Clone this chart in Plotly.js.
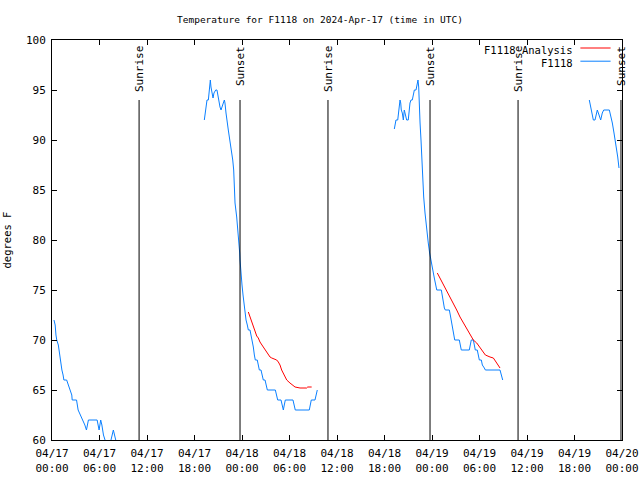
<!DOCTYPE html>
<html>
<head>
<meta charset="utf-8">
<script src="https://cdn.plot.ly/plotly-3.0.1.min.js"></script>
<style>html,body{margin:0;padding:0;background:#fff;}#chart{width:640px;height:480px;}</style>
</head>
<body>
<div id="chart"></div>
<script>
// Hours since 2024-04-17 00:00 UTC, and temperature (degrees F)
const obsHours1 = [0.25,0.4,0.5,0.6,0.8,0.95,1.1,1.25,1.4,1.5,1.85,2.05,2.25,2.5,2.55,3.1,3.3,3.6,3.9,4.15,4.35,4.6,5.7,5.85,5.95,6.15,6.3,6.5,6.7,6.9,7.3,7.45,7.75,8.05,8.3];
const obsTemp1  = [72,71.5,70.5,70,69.5,68.5,67.5,67,66.5,66,66,65.5,65,64.5,64,64,63,62.5,62,61.5,61,62,62,61.5,61,62,61.5,60.5,60,59.5,59.5,60,61,60,59.5];

const obsHours2 = [19.24,19.33,19.45,19.58,19.75,19.83,19.96,20.0,20.08,20.21,20.34,20.46,20.68,20.84,21.0,21.1,21.22,21.35,21.51,21.64,21.77,21.85,21.98,22.1,22.27,22.4,22.52,22.7,22.83,22.95,23.03,23.12,23.33,23.46,23.58,23.71,23.75,23.87,24.0,24.13,24.25,24.38,24.51,24.67,24.8,25.01,25.14,25.27,25.43,25.56,25.68,25.93,26.06,26.19,26.4,26.53,26.69,26.91,27.03,27.2,28.21,28.38,28.51,28.93,29.09,29.22,29.34,29.47,30.44,30.61,30.73,32.5,32.63,32.75,33.22,33.35,33.51];
const obsTemp2  = [92,92.7,93.7,94,94,94.7,95.5,96,95.3,94.7,94.2,94.7,95,95,94.2,93.8,93.3,93,93.3,93.7,94,93.7,92.7,91.7,91,90.3,89.7,89,88,87,85.3,83.7,82.3,81.3,80,78.7,78,76.5,75.5,74.5,73.5,72.7,72,71.5,71,71,70.5,70,69.3,68.5,68,68,67.5,67,67,66.5,66,66,65.5,65,65,64.5,64,64,63.5,63,63.5,64,64,63.5,63,63,63.5,64,64,64.5,65];

const obsHours3 = [43.24,43.33,43.45,43.67,43.83,43.96,44.05,44.12,44.25,44.38,44.5,44.59,44.68,44.8,45.0,45.13,45.22,45.35,45.51,45.64,45.77,45.98,46.11,46.23,46.32,46.36,46.49,46.61,46.7,46.83,46.95,47.12,47.28,47.41,47.53,47.7,47.84,47.96,48.17,48.29,48.42,48.6,49.18,49.31,49.43,49.56,49.68,50.19,50.31,50.44,50.57,50.69,50.87,51.45,51.58,51.7,52.71,52.84,52.96,53.22,53.34,53.47,53.72,53.85,53.98,54.23,54.36,54.61,54.74,56.59,56.72,56.85,56.93];
const obsTemp3  = [91.1,91.5,92,92,93,94,93.7,93,92.7,92,93,92.7,92.5,92,92,93.2,93.7,94,94,94.5,95,95,95.5,96,95.3,93.7,91.7,90,88.3,86.3,84.3,82.7,81.3,80.7,79.7,78.7,78,77.5,76.7,76.2,75.7,75,75,74.3,73.8,73.2,73,73,72.5,71.8,71.2,70.5,70,70,69.5,69,69,69.5,70,70,69.5,69,69,68.5,68,68,67.5,67.2,67,67,66.7,66.3,66];

const obsHours4 = [67.87,68.05,68.25,68.38,68.59,68.72,68.88,69.1,69.31,69.51,69.69,70.4,70.58,70.78,70.99,71.12,71.33,71.46,71.62];
const obsTemp4  = [94,93.3,92.7,92,92,92.5,93,92.5,92,92.7,93,93,92.5,91.7,90.7,90,89.3,88.3,87.2];

const anaHours1 = [24.8,25.01,25.23,25.43,25.64,25.86,26.06,26.27,26.69,27.12,27.54,27.76,28.38,28.59,28.8,29.01,29.22,29.65,30.06,30.7,31.33,32.17,32.3,32.8];
const anaTemp1  = [72.8,72.3,71.8,71.3,70.8,70.4,70.2,69.8,69.3,68.8,68.3,68.2,68,67.8,67.5,67,66.7,66,65.7,65.3,65.2,65.2,65.3,65.3];
const anaHours2 = [48.67,49.01,49.43,49.86,50.27,50.69,51.12,51.54,51.96,52.38,52.8,53.22,53.65,54.06,54.48,54.74,55.33,55.75,56.09,56.38,56.59];
const anaTemp2  = [76.7,76.2,75.5,75,74.3,73.7,73,72.3,71.7,71.2,70.5,70,69.7,69.2,68.7,68.5,68.3,68.2,67.8,67.5,67.2];

const eventHours = [11.0,23.75,34.86,47.75,58.87,71.87];
const eventNames = ["Sunrise","Sunset","Sunrise","Sunset","Sunrise","Sunset"];
const eventTop = 94;

const xTickHours = [0,6,12,18,24,30,36,42,48,54,60,66,72];
const xTickText = ["04/17<br>00:00","04/17<br>06:00","04/17<br>12:00","04/17<br>18:00","04/18<br>00:00","04/18<br>06:00","04/18<br>12:00","04/18<br>18:00","04/19<br>00:00","04/19<br>06:00","04/19<br>12:00","04/19<br>18:00","04/20<br>00:00"];

const seriesNames = ["F1118 Analysis","F1118"];
const seriesColors = ["#ff0000","#0a80ff"];

function toDate(h){
  const ms = Date.UTC(2024,3,17) + Math.round(h*3600000);
  return new Date(ms).toISOString().replace('T',' ').slice(0,19);
}
function joinSegs(hs, ts){
  const x=[], y=[];
  hs.forEach((seg,i)=>{
    if(i>0){x.push(null);y.push(null);}
    seg.forEach((h,j)=>{x.push(toDate(h)); y.push(ts[i][j]);});
  });
  return {x,y};
}
const obs = joinSegs([obsHours1,obsHours2,obsHours3,obsHours4],[obsTemp1,obsTemp2,obsTemp3,obsTemp4]);
const ana = joinSegs([anaHours1,anaHours2],[anaTemp1,anaTemp2]);

const mono = "DejaVu Sans Mono, Liberation Mono, monospace";
const traces = [
  {x: obs.x, y: obs.y, mode:'lines', name: seriesNames[1], line:{color:seriesColors[1], width:1}, connectgaps:false, showlegend:false},
  {x: ana.x, y: ana.y, mode:'lines', name: seriesNames[0], line:{color:seriesColors[0], width:1}, connectgaps:false, showlegend:false}
];

const shapes = eventHours.map(h=>({type:'line', xref:'x', yref:'y', x0:toDate(h), x1:toDate(h), y0:60, y1:eventTop, line:{color:'#000', width:1}}));
const annotations = eventHours.map((h,i)=>({xref:'x', yref:'paper', x:toDate(h), y:0.99, yanchor:'top', xanchor:'center', text:eventNames[i], textangle:-90, showarrow:false, font:{family:mono,size:11,color:'#000'}}));

// Gnuplot-style key: text right-aligned, sample line to the right
const keyY = [0.975, 0.942];
seriesNames.forEach((n,i)=>{
  annotations.push({xref:'paper', yref:'paper', x:0.9175, y:keyY[i], xanchor:'right', yanchor:'middle', text:n, showarrow:false, font:{family:mono,size:10.5,color:'#000'}, bgcolor:'rgba(0,0,0,0)'});
  shapes.push({type:'line', xref:'paper', yref:'paper', x0:0.927, x1:0.98, y0:keyY[i]+0.005, y1:keyY[i]+0.005, line:{color:seriesColors[i], width:1}});
});

const layout = {
  width:640, height:480,
  margin:{l:52, r:18, t:40, b:40},
  paper_bgcolor:'#fff', plot_bgcolor:'#fff',
  font:{family:mono, size:11, color:'#000'},
  title:{text:'Temperature for F1118 on 2024-Apr-17 (time in UTC)', x:0.5, xanchor:'center', y:0.96, yanchor:'middle', font:{family:mono,size:9.5,color:'#000'}},
  showlegend:false,
  xaxis:{type:'date', range:[toDate(0),toDate(72)], tickvals:xTickHours.map(toDate), ticktext:xTickText,
    ticks:'inside', ticklen:5, tickcolor:'#000', showline:true, linecolor:'#000', linewidth:1, mirror:'allticks', showgrid:false, zeroline:false,
    ticklabelstandoff:3,
    tickfont:{family:mono,size:11,color:'#000'}},
  yaxis:{range:[60,100], dtick:5, tick0:60, ticks:'inside', ticklen:5, tickcolor:'#000', showline:true, linecolor:'#000', linewidth:1, mirror:'allticks', showgrid:false, zeroline:false,
    ticklabelstandoff:3,
    tickfont:{family:mono,size:11,color:'#000'},
    title:{text:'degrees F', font:{family:mono,size:10.5,color:'#000'}, standoff:12}},
  shapes: shapes,
  annotations: annotations
};
Plotly.newPlot('chart', traces, layout, {staticPlot:true, displayModeBar:false});
</script>
</body>
</html>
